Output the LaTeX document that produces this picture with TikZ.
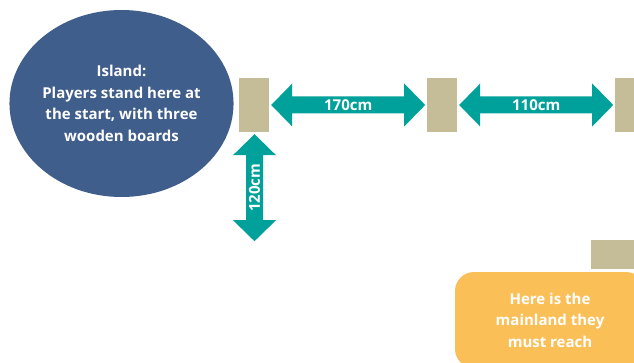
\documentclass[tikz,border=0pt]{standalone}
\usepackage{fontspec}
\setmainfont{Open Sans}
\usepackage{tikz}
\usetikzlibrary{calc,positioning,shapes.geometric}
\definecolor{islandblue}{HTML}{3F5E8C}
\definecolor{bridgeteal}{HTML}{00A19A}
\definecolor{boardtan}{HTML}{C5BD98}
\definecolor{mainorange}{HTML}{FBBF58}
% block arrow: start point, length, angle, label
\newcommand{\blockarrow}[4]{%
\begin{scope}[shift={(#1)},rotate=#3]
\fill[bridgeteal] (0,0) -- (21,21.5) -- (21,8.5) -- (#2-21,8.5) -- (#2-21,21.5)
  -- (#2,0) -- (#2-21,-21.5) -- (#2-21,-8.5) -- (21,-8.5) -- (21,-21.5) -- cycle;
\node[Labels,rotate=#3] at (#2/2,0) {#4};
\end{scope}}

\begin{document}
\begin{tikzpicture}[
x=1pt,y=-1pt,
Boards/.style={fill=boardtan,inner sep=0pt,minimum width=30,minimum height=54},
Labels/.style={text=white,font=\fontsize{15}{21.5}\selectfont\bfseries,inner sep=0pt},
Island/.style={ellipse,fill=islandblue,minimum width=215,minimum height=187,
  text=white,font=\fontsize{15}{21.5}\selectfont\bfseries,align=center,inner sep=0pt},
Mainland/.style={fill=mainorange,rounded corners=19,minimum width=190,minimum height=96,
  text=white,font=\fontsize{15}{21.5}\selectfont\bfseries,align=center,inner sep=0pt}
]
\useasboundingbox (0,0) rectangle (634,363);

\node[Island] (island) at (121.5,103.5) {Island:\\Players stand here at\\the start, with three\\wooden boards};

% boards
\node[Boards] (b1) at (254,105) {};
\node[Boards] (b2) at (442,105) {};
\node[Boards] (b3) at (630,105) {};
\node[Boards,minimum width=44,minimum height=29] (b4) at (613,254.5) {};

\node[Mainland] (mainland) at (550,320) {Here is the\\mainland they\\must reach};

% distances
\blockarrow{$(b1.east)+(2,0)$}{154}{0}{170cm}
\blockarrow{$(b2.east)+(2,0)$}{154}{0}{110cm}
\blockarrow{$(b1.south)+(0.5,109)$}{107}{90}{120cm}

\end{tikzpicture}
\end{document}
